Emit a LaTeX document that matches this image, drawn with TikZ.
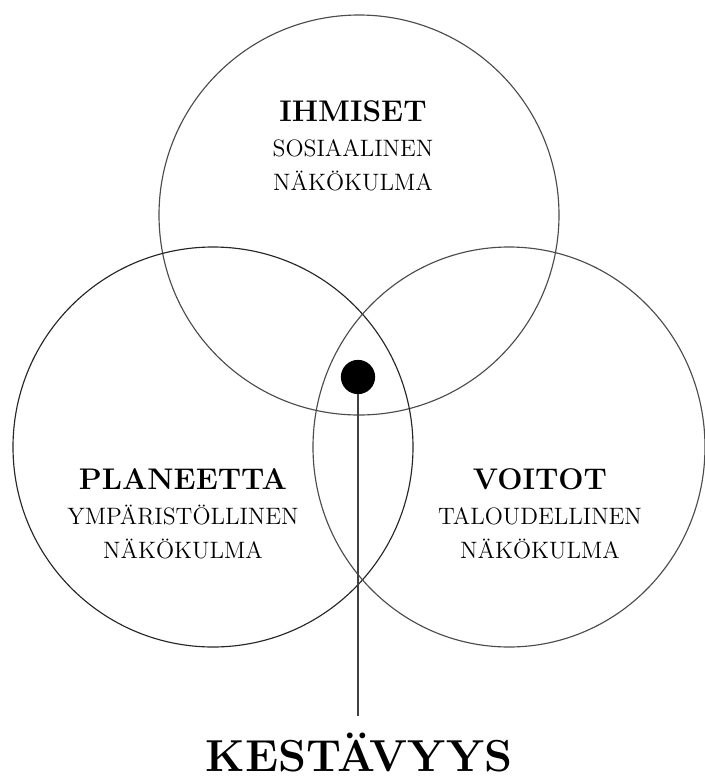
\documentclass[tikz,border=0pt]{standalone}
\usepackage{tikz}

\tikzset{
    ring/.style={draw=black!70, line width=0.65pt},
    label/.style={align=center, inner sep=0pt, font=\fontsize{13.5}{19.5}\selectfont},
}
\newcommand{\headline}[1]{{\fontsize{17}{19.5}\selectfont\bfseries #1}}

\begin{document}
\begin{tikzpicture}[x=0.02cm, y=0.02cm]
    \useasboundingbox (0,0) rectangle (705,-778);

    \coordinate (ihmiset) at (359,-215);
    \coordinate (planeetta) at (213,-447);
    \coordinate (voitot) at (509,-447);
    \coordinate (lineend) at (358,-716);

    \draw[ring] (ihmiset) circle (200);
    \draw[ring,draw=black!85] (planeetta) circle (200);
    \draw[ring] (voitot) ellipse (196 and 200);

    \node[label] (toptext) at (353,-146) {\headline{IHMISET}\\SOSIAALINEN\\NÄKÖKULMA};
    \node[label] (lefttext) at (183,-514) {\headline{PLANEETTA}\\YMPÄRISTÖLLINEN\\NÄKÖKULMA};
    \node[label] (righttext) at (540,-514) {\headline{VOITOT}\\TALOUDELLINEN\\NÄKÖKULMA};

    \node[circle, fill=black, inner sep=0pt, minimum size=19.5pt] (dot) at (358,-377) {};
    \draw[black!75, line width=0.65pt] (dot.south) -- (lineend);

    \node[anchor=base, inner sep=0pt, font=\fontsize{25.5}{30}\selectfont\bfseries] (kestavyys) at (359,-771) {KESTÄVYYS};
\end{tikzpicture}
\end{document}
